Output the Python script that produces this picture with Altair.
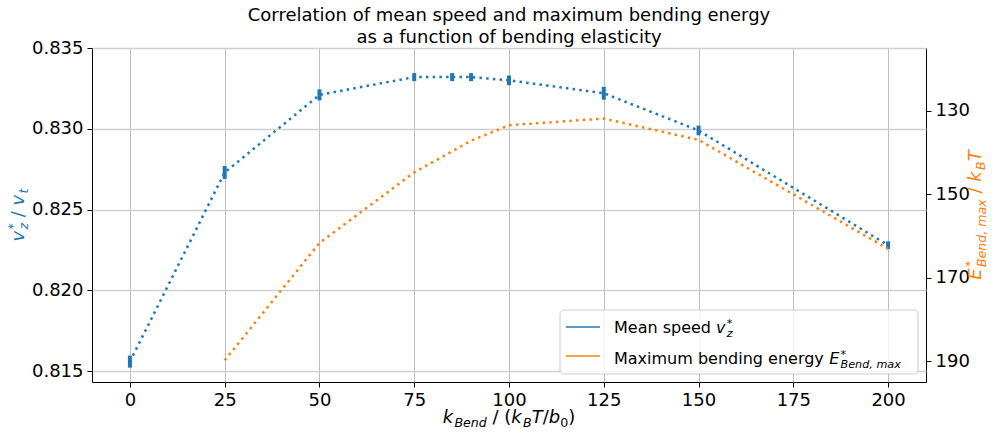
import altair as alt
import pandas as pd

# ---------------- data ----------------
k_speed = [0, 25, 50, 75, 85, 90, 100, 125, 150, 200]
v_speed = [0.8156, 0.8273, 0.8321, 0.8332, 0.8332, 0.8332, 0.8330, 0.8322, 0.8299, 0.8228]
v_err = [0.00037, 0.0004, 0.00034, 0.00025, 0.00025, 0.00025, 0.0003, 0.0004, 0.0003, 0.00024]

k_energy = [25, 50, 75, 90, 100, 125, 150, 200]
e_bend = [189.8, 161.7, 144.8, 137.2, 133.5, 131.9, 137.0, 163.1]

x_ticks = [0, 25, 50, 75, 100, 125, 150, 175, 200]
left_ticks = [0.815, 0.820, 0.825, 0.830, 0.835]
right_ticks = [130, 150, 170, 190]

title_lines = ["Correlation of mean speed and maximum bending energy",
               "as a function of bending elasticity"]
legend_labels = ["Mean speed", "Maximum bending energy"]

BLUE = "#1f77b4"
ORANGE = "#ff7f0e"
FONT = "DejaVu Sans"

speed_df = pd.DataFrame({
    "k": k_speed,
    "v": v_speed,
    "lo": [a - b for a, b in zip(v_speed, v_err)],
    "hi": [a + b for a, b in zip(v_speed, v_err)],
})
energy_df = pd.DataFrame({"k": k_energy, "E": e_bend})
dummy = pd.DataFrame({"_": [0]})

# ---------------- layout ----------------
OX, OY = 92, 48          # plot-area origin in the page
W, H = 834, 334          # plot-area size

x_enc = alt.X("k:Q",
              scale=alt.Scale(domain=[-10, 210], nice=False, zero=False),
              axis=alt.Axis(values=x_ticks, title=None, grid=True,
                            gridColor="#bdbdbd", gridWidth=1))

left_scale = alt.Scale(domain=[0.81434, 0.835], nice=False, zero=False)
right_scale = alt.Scale(domain=[115, 195], reverse=True, nice=False, zero=False)

blue_line = alt.Chart(speed_df).mark_line(
    color=BLUE, strokeWidth=2.5, strokeDash=[2.5, 4.2], strokeCap="butt"
).encode(
    x=x_enc,
    y=alt.Y("v:Q", scale=left_scale,
            axis=alt.Axis(values=left_ticks, format=".3f", title=None, orient="left",
                          grid=True, gridColor="#cfcfcf", gridWidth=1.5)),
)
blue_err = alt.Chart(speed_df).mark_rule(color=BLUE, strokeWidth=4).encode(
    x=x_enc,
    y=alt.Y("lo:Q", scale=left_scale),
    y2="hi:Q",
)
left = alt.layer(blue_line, blue_err)

orange_line = alt.Chart(energy_df).mark_line(
    color=ORANGE, strokeWidth=2.5, strokeDash=[2.5, 4.2], strokeCap="butt"
).encode(
    x=x_enc,
    y=alt.Y("E:Q", scale=right_scale,
            axis=alt.Axis(values=right_ticks, format="d", title=None, orient="right",
                          grid=False)),
)

# ---------------- text helpers ----------------
ADV = {' ': 651, '(': 799, ')': 799, '*': 1024, ',': 651, '/': 690, '0': 1303,
       'B': 1405, 'E': 1294, 'M': 1767, 'T': 1251, 'a': 1255, 'b': 1300, 'd': 1300,
       'e': 1260, 'g': 1300, 'i': 569, 'k': 1186, 'm': 1995, 'n': 1298, 'p': 1300,
       'r': 842, 's': 1067, 't': 803, 'u': 1298, 'v': 1212, 'x': 1212, 'y': 1212,
       'z': 1075}


def tw(s, size):
    return sum(ADV.get(c, 1250) for c in s) / 2048 * size


def txt(s, sx, sy, size, italic=False, color="black", angle=0, align="left"):
    return alt.Chart(dummy).mark_text(
        text=s, font=FONT, fontSize=size, fontStyle="italic" if italic else "normal",
        color=color, align=align, baseline="alphabetic", angle=angle,
    ).encode(x=alt.value(sx - OX), y=alt.value(sy - OY))


def seg_total(segments):
    return sum(max(tw(t, s) for (t, s, it, sh) in seg) for seg in segments)


def compose(segments, start, base, color="black", vertical=False):
    """Lay text pieces one after another; whitespace-only pieces are spacers."""
    out = []
    pos = start
    for seg in segments:
        adv = 0
        for (t, size, it, shift) in seg:
            if t.strip():
                if vertical:
                    out.append(txt(t, base + shift, pos, size, it, color, angle=270))
                else:
                    out.append(txt(t, pos, base + shift, size, it, color))
            adv = max(adv, tw(t, size))
        pos = pos - adv if vertical else pos + adv
    return out


M, S = 18, 12.6
SP = [(" ", M, False, 0)]
GAP = [(" ", 4, False, 0)]   # small italic correction before scripts
texts = []

# title
texts.append(txt(title_lines[0], OX + W / 2, 21, 18, align="center"))
texts.append(txt(title_lines[1], OX + W / 2, 43, 18, align="center"))

# x-axis label: k_Bend / (k_B T / b_0)
xl = [
    [("k", M, True, 0)],
    GAP,
    [("Bend", S, True, 4)],
    SP,
    [("/", M, False, 0)],
    SP,
    [("(", M, False, 0)],
    [("k", M, True, 0)],
    GAP,
    [("B", S, True, 4)],
    [("T", M, True, 0)],
    [("/", M, False, 0)],
    [("b", M, True, 0)],
    [("0", S, False, 4)],
    [(")", M, False, 0)],
]
texts += compose(xl, OX + W / 2 - seg_total(xl) / 2, 423)

# left y label: v_z^* / v_t
ll = [
    [("v", M, True, 0)],
    GAP,
    [("*", S, False, -7), ("z", S, True, 4)],
    SP,
    [("/", M, False, 0)],
    SP,
    [("v", M, True, 0)],
    GAP,
    [("t", S, True, 4)],
]
texts += compose(ll, OY + H / 2 + seg_total(ll) / 2, 24, BLUE, vertical=True)

# right y label: E^*_{Bend,max} / k_B T
rl = [
    [("E", M, True, 0)],
    GAP,
    [("*", S, False, -7), ("Bend, max", S, True, 4.5)],
    SP,
    [("/", M, False, 0)],
    SP,
    [("k", M, True, 0)],
    GAP,
    [("B", S, True, 4)],
    [("T", M, True, 0)],
]
texts += compose(rl, OY + H / 2 + seg_total(rl) / 2, 981, ORANGE, vertical=True)

# legend
legend_box = alt.Chart(dummy).mark_rect(
    fill="white", fillOpacity=0.8, stroke="#cccccc", strokeWidth=1, cornerRadius=4
).encode(x=alt.value(560 - OX), x2=alt.value(918 - OX),
         y=alt.value(310 - OY), y2=alt.value(374 - OY))
leg_blue = alt.Chart(dummy).mark_rule(color=BLUE, strokeWidth=1.5).encode(
    x=alt.value(566 - OX), x2=alt.value(600 - OX), y=alt.value(327 - OY))
leg_orange = alt.Chart(dummy).mark_rule(color=ORANGE, strokeWidth=1.5).encode(
    x=alt.value(566 - OX), x2=alt.value(600 - OX), y=alt.value(356 - OY))

LM, LS = 16, 11.2
LSP = [(" ", LM, False, 0)]
row1 = [
    [(legend_labels[0], LM, False, 0)],
    LSP,
    [("v", LM, True, 0)],
    GAP,
    [("*", LS, False, -6), ("z", LS, True, 3.5)],
]
row2 = [
    [(legend_labels[1], LM, False, 0)],
    LSP,
    [("E", LM, True, 0)],
    GAP,
    [("*", LS, False, -6), ("Bend, max", LS, True, 3.5)],
]
legend_texts = compose(row1, 614, 333) + compose(row2, 614, 364)

chart = alt.layer(
    left, orange_line, legend_box, leg_blue, leg_orange, *legend_texts, *texts
).resolve_scale(
    y="independent"
).properties(
    width=W, height=H,
    autosize=alt.AutoSizeParams(type="none"),
    padding={"left": OX, "top": OY, "right": 996 - OX - W, "bottom": 437 - OY - H},
).configure_view(
    stroke="black", strokeWidth=1
).configure_axis(
    domain=False, tickColor="black", tickSize=5, tickWidth=1,
    labelFont=FONT, labelFontSize=18, labelColor="black", labelPadding=4,
)

chart.save("out.html", embed_options={"renderer": "svg", "actions": False})
